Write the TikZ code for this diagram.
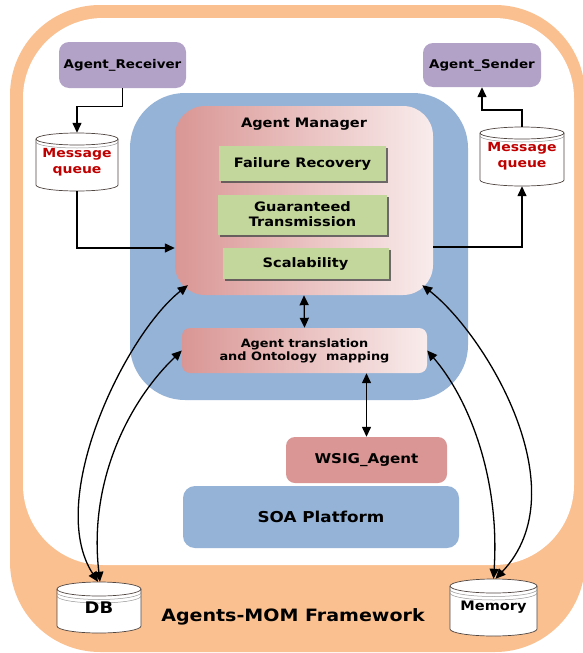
\documentclass[tikz,border=0pt]{standalone}
\usepackage{fontspec}
\setmainfont{DejaVu Sans}[FakeStretch=1.12]
\usetikzlibrary{arrows.meta,shadows,calc}
\definecolor{orangebg}{RGB}{250,192,144}
\definecolor{bluebox}{RGB}{149,179,215}
\definecolor{purplebox}{RGB}{179,162,199}
\definecolor{greenbox}{RGB}{195,214,155}
\definecolor{pinkdark}{RGB}{217,150,148}
\definecolor{pinklight}{RGB}{249,236,236}
\definecolor{redtext}{RGB}{192,0,0}
\definecolor{cylline}{RGB}{80,70,66}
\definecolor{cylextra}{RGB}{150,150,150}
\newcommand\cylbody[4]{%
 \begin{scope}[shift={(#1)}]
  \filldraw[draw=cylline, line width=0.7pt, fill=white] (-#2pt,#3pt-#4pt) -- (-#2pt,-#3pt+#4pt) arc[start angle=180,end angle=360,x radius=#2pt,y radius=#4pt] -- (#2pt,#3pt-#4pt) arc[start angle=0,end angle=180,x radius=#2pt,y radius=#4pt] -- cycle;
  \draw[draw=cylline, line width=0.7pt] (-#2pt,#3pt-#4pt) arc[start angle=180,end angle=360,x radius=#2pt,y radius=#4pt];
 \end{scope}}
\newcommand\cylline[5]{%
 \begin{scope}[shift={(#1)}]
  \draw[draw=cylextra, line width=0.5pt] (-#2pt,#3pt-#4pt-#5pt) arc[start angle=180,end angle=360,x radius=#2pt,y radius=#4pt];
 \end{scope}}
\begin{document}
\begin{tikzpicture}[x=1pt,y=-1pt,
  arr/.style={line width=1.4pt, -{Triangle[length=10pt,width=9pt]}},
  dbl/.style={line width=1.3pt, {Triangle[length=10pt,width=9pt]}-{Triangle[length=10pt,width=9pt]}},
  box/.style={inner sep=0pt, align=center, text=black},
  gbox/.style={box, fill=greenbox, drop shadow={shadow xshift=2pt,shadow yshift=-2pt,fill=black!70,opacity=.8}, font=\fontsize{13}{15}\selectfont\bfseries},
  pbox/.style={box, fill=purplebox, rounded corners=10pt, font=\fontsize{12}{14}\selectfont\bfseries},
  gradbox/.style={box, left color=pinkdark, right color=pinklight},
  cylnode/.style={inner sep=0pt, align=center}]
\useasboundingbox (0,0) rectangle (583,653);
\clip (0,0) rectangle (583,653);
\fill[orangebg, rounded corners=90pt] (10,5) rectangle (585,652);
\fill[white, rounded corners=80pt] (23,18) rectangle (574,565);

\node[box, fill=bluebox, rounded corners=55pt, minimum width=338pt, minimum height=307pt] (mgr) at (299,246.5) {};
\node[gradbox, rounded corners=30pt, minimum width=258pt, minimum height=189pt] (am) at (304,200.5) {};
\node[font=\fontsize{13}{15}\selectfont\bfseries] (amtitle) at (304,124) {Agent Manager};
\node[gbox, minimum width=167pt, minimum height=35pt] (fr) at (302.5,163.5) {Failure Recovery};
\node[gbox, minimum width=169pt, minimum height=40pt] (gt) at (302.5,214.5) {Guaranteed\\Transmission};
\node[gbox, minimum width=166pt, minimum height=31pt] (sc) at (305.5,263.5) {Scalability};
\node[gradbox, rounded corners=8pt, minimum width=245pt, minimum height=45pt, font=\fontsize{11.5}{13}\selectfont\bfseries] (tr) at (304.5,350.5) {Agent translation\\and Ontology\ \ mapping};
\node[box, fill=pinkdark, rounded corners=9pt, minimum width=161pt, minimum height=46pt, font=\fontsize{13.5}{15}\selectfont\bfseries] (ws) at (366.5,460) {WSIG\_Agent};
\node[box, fill=bluebox, rounded corners=12pt, minimum width=276pt, minimum height=62pt, font=\fontsize{15}{17}\selectfont\bfseries] (soa) at (321,517) {SOA Platform};
\node[pbox, minimum width=127pt, minimum height=46pt] (ar) at (122.5,65) {Agent\_Receiver};
\node[pbox, minimum width=118pt, minimum height=44pt] (as) at (482,65) {Agent\_Sender};
\node[font=\fontsize{17}{19}\selectfont\bfseries] (fw) at (293,617) {Agents-MOM Framework};

\cylbody{77,162}{41}{29}{6}
\cylline{77,162}{41}{29}{6}{3}
\cylbody{522,156.5}{42}{29.5}{6}
\cylline{522,156.5}{42}{29.5}{6}{3}
\cylbody{99,607.5}{42}{25.5}{7}
\cylline{99,607.5}{42}{25.5}{7}{3.5}
\cylline{99,607.5}{42}{25.5}{7}{7}
\cylbody{493.5,607.5}{43.5}{28.5}{7}
\cylline{493.5,607.5}{43.5}{28.5}{7}{3.5}
\cylline{493.5,607.5}{43.5}{28.5}{7}{7}

\node[cylnode, minimum width=82pt, minimum height=58pt, text=redtext, font=\fontsize{12.5}{16}\selectfont\bfseries] (mq1) at (77,162) {Message\\queue};
\node[cylnode, minimum width=84pt, minimum height=59pt, text=redtext, font=\fontsize{12.5}{16}\selectfont\bfseries] (mq2) at (522,156.5) {Message\\queue};
\node[cylnode, minimum width=84pt, minimum height=51pt, font=\fontsize{16}{18}\selectfont\bfseries] (db) at (99,607.5) {\raisebox{-3pt}{DB}};
\node[cylnode, minimum width=87pt, minimum height=57pt, font=\fontsize{13}{15}\selectfont\bfseries] (mem) at (493.5,607.5) {\raisebox{-2pt}{Memory}};

\coordinate (y248) at (0,248);
\coordinate (y247) at (0,247);
\draw[arr] (ar.south) -- ++(0,18) -| (mq1.north);
\draw[arr] (mq1.south) |- (am.west |- y248);
\draw[arr] (am.east |- y247) -| (mq2.south);
\draw[arr] (mq2.north) -- ++(0,-17) -| (as.south);
\draw[dbl] (am.south) -- (tr.north);
\draw[dbl] (tr.south -| ws.north) -- (ws.north);

\draw[dbl] ($(db.north)+(-1,0)$) .. controls (45,500) and (125,335) .. ($(am.south west)+(13,-10)$);
\draw[dbl] ($(db.north)+(1,0)$) .. controls (88,480) and (130,400) .. (tr.west);
\draw[dbl] ($(mem.north)+(2,0)$) .. controls (580,490) and (485,334) .. ($(am.south east)+(-11,-10)$);
\draw[dbl] ($(mem.north)+(0,0)$) .. controls (500,480) and (470,400) .. (tr.east);
\end{tikzpicture}
\end{document}
